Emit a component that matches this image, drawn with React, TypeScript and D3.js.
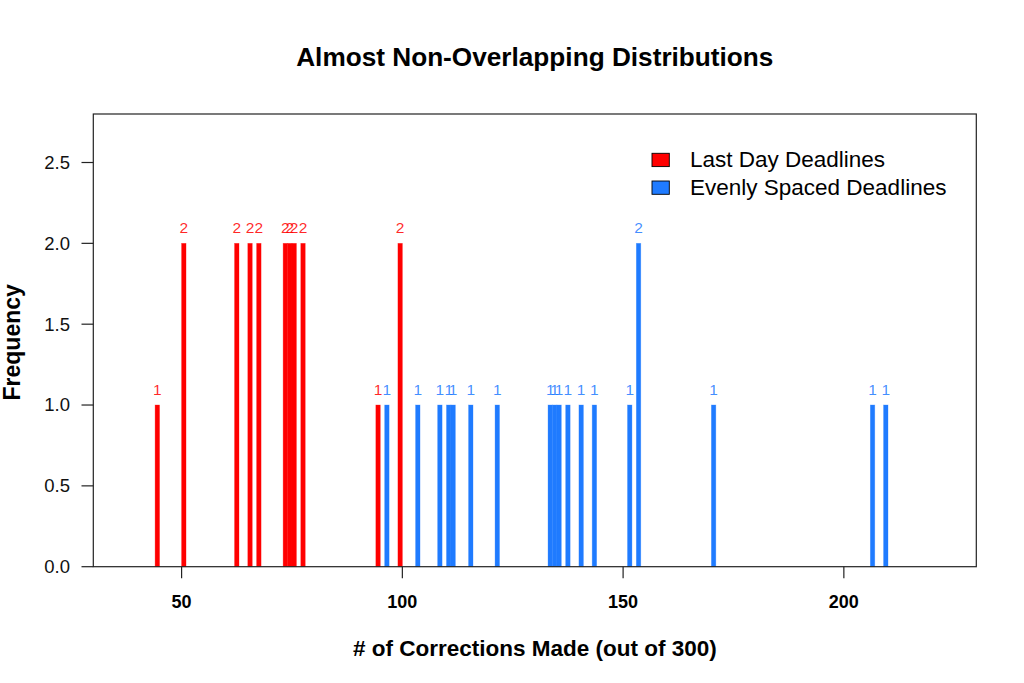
import React from "react";
import * as d3 from "d3";

const title = "Almost Non-Overlapping Distributions";
const xLabel = "# of Corrections Made (out of 300)";
const yLabel = "Frequency";

const seriesNames = ["Last Day Deadlines", "Evenly Spaced Deadlines"];
const seriesColors = ["#FF0000", "#1F7BFF"];

// bin start values (bins of width 1) and counts
const redBins = [44, 50, 62, 65, 67, 73, 74, 75, 77, 94, 99];
const redCounts = [1, 2, 2, 2, 2, 2, 2, 2, 2, 1, 2];
const blueBins = [96, 103, 108, 110, 111, 115, 121, 133, 134, 135, 137, 140, 143, 151, 153, 170, 206, 209];
const blueCounts = [1, 1, 1, 1, 1, 1, 1, 1, 1, 1, 1, 1, 1, 1, 2, 1, 1, 1];

const xDomain = [30, 230];
const yDomain = [0, 2.8];

const FONT = "'Liberation Sans', Arial, Helvetica, sans-serif";

export default function App() {
  const W = 1024;
  const H = 683;
  const left = 93.3, right = 976.3, top = 114, bottom = 566.7;
  const x = d3.scaleLinear().domain(xDomain).range([left, right]);
  const y = d3.scaleLinear().domain(yDomain).range([bottom, top]);
  const xTicks = x.ticks(5);
  const yTicks = y.ticks(6);

  const series = [
    { bins: redBins, counts: redCounts, color: seriesColors[0] },
    { bins: blueBins, counts: blueCounts, color: seriesColors[1] },
  ];

  return (
    <svg
      width={W}
      height={H}
      viewBox={`0 0 ${W} ${H}`}
      style={{ position: "absolute", left: 0, top: 0, display: "block", background: "#fff" }}
      fontFamily={FONT}
    >
      <rect x={0} y={0} width={W} height={H} fill="#fff" />
      <text x={(left + right) / 2} y={65.5} textAnchor="middle" fontSize={26.2} fontWeight="bold" fill="#000">
        {title}
      </text>

      {series.map((s, si) => (
        <g key={si}>
          {s.bins.map((b, i) => (
            <rect
              key={"r" + i}
              x={x(b)}
              y={y(s.counts[i])}
              width={x(b + 1) - x(b)}
              height={y(0) - y(s.counts[i])}
              fill={s.color}
              stroke={s.color}
              strokeOpacity={0.45}
              strokeWidth={0.7}
            />
          ))}
          {s.bins.map((b, i) => (
            <text
              key={"t" + i}
              x={x(b + 0.5)}
              y={y(s.counts[i]) - 10.5}
              textAnchor="middle"
              fontSize={15.5}
              fill={s.color}
              fillOpacity={0.85}
            >
              {s.counts[i]}
            </text>
          ))}
        </g>
      ))}

      <rect x={left} y={top} width={right - left} height={bottom - top} fill="none" stroke="#222" strokeWidth={1.2} />

      {xTicks.map((t) => (
        <g key={"xt" + t}>
          <line x1={x(t)} x2={x(t)} y1={bottom} y2={bottom + 11.5} stroke="#222" strokeWidth={1.2} />
          <text x={x(t)} y={607.5} textAnchor="middle" fontSize={18} fontWeight="bold" fill="#000">
            {t}
          </text>
        </g>
      ))}
      {yTicks.map((t) => (
        <g key={"yt" + t}>
          <line x1={left - 11.8} x2={left} y1={y(t)} y2={y(t)} stroke="#222" strokeWidth={1.2} />
          <text x={70} y={y(t)} dy="0.35em" textAnchor="end" fontSize={18.5} fill="#111">
            {d3.format(".1f")(t)}
          </text>
        </g>
      ))}

      <text x={(left + right) / 2} y={655.5} textAnchor="middle" fontSize={22.5} fontWeight="bold" fill="#000">
        {xLabel}
      </text>
      <text
        transform={`translate(19.5, ${(top + bottom) / 2 + 2}) rotate(-90)`}
        textAnchor="middle"
        fontSize={23}
        fontWeight="bold"
        fill="#000"
      >
        {yLabel}
      </text>

      {seriesNames.map((name, i) => (
        <g key={"lg" + i}>
          <rect x={652} y={153.3 + i * 27.7} width={17.3} height={13.3} fill={seriesColors[i]} stroke="#000" strokeWidth={0.9} />
          <text x={690} y={167.3 + i * 27.7} fontSize={22.5} fill="#000">
            {name}
          </text>
        </g>
      ))}
    </svg>
  );
}
